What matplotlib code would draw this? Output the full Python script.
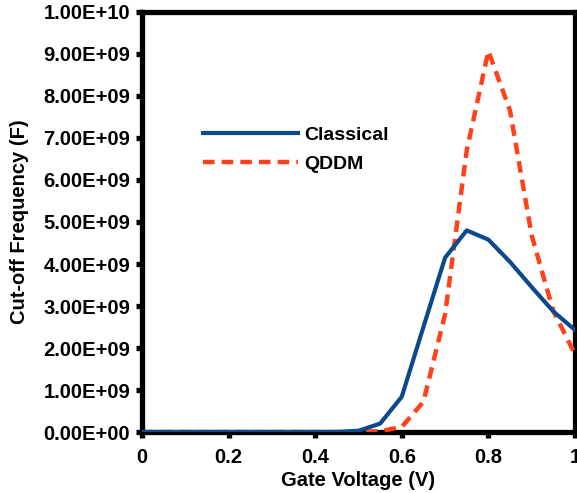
import matplotlib.pyplot as plt
from matplotlib.ticker import FuncFormatter

plt.rcParams['font.family'] = ['Liberation Sans', 'DejaVu Sans']
plt.rcParams['font.weight'] = 'bold'

# gate voltage sweep (V) and cut-off frequency for both models
voltage = [0.0, 0.05, 0.1, 0.15, 0.2, 0.25, 0.3, 0.35, 0.4, 0.45, 0.5,
           0.55, 0.6, 0.65, 0.7, 0.75, 0.8, 0.85, 0.9, 0.95, 1.0]
classical = [0, 0, 0, 0, 0, 0, 0, 0, 0, 0, 0.03e9,
             0.2e9, 0.84e9, 2.5e9, 4.15e9, 4.8e9, 4.58e9, 4.05e9, 3.45e9, 2.87e9, 2.43e9]
qddm = [0, 0, 0, 0, 0, 0, 0, 0, 0, 0, 0,
        0.02e9, 0.12e9, 0.72e9, 2.8e9, 6.7e9, 9.07e9, 7.65e9, 4.68e9, 2.88e9, 1.85e9]

xticks = [0, 0.2, 0.4, 0.6, 0.8, 1.0]
xtick_labels = ["0", "0.2", "0.4", "0.6", "0.8", "1"]
yticks = [i * 1e9 for i in range(11)]

fig = plt.figure(figsize=(5.77, 4.93), dpi=100)
ax = fig.add_axes([0.246, 0.1237, 0.7505, 0.852])

ax.plot(voltage, qddm, color='#ff4019', lw=3.2, dashes=(2.6, 1.6),
        label='QDDM', zorder=3)
ax.plot(voltage, classical, color='#0a4a8c', lw=3.0,
        label='Classical', zorder=4)

ax.set_xlim(0, 1)
ax.set_ylim(0, 1e10)
ax.set_xticks(xticks)
ax.set_xticklabels(xtick_labels)
ax.set_yticks(yticks)
ax.yaxis.set_major_formatter(FuncFormatter(lambda v, p: "%.2E" % v))

for s in ax.spines.values():
    s.set_linewidth(3.8)
ax.tick_params(direction='out', length=4.5, width=3.8, labelsize=14.5)
ax.tick_params(axis='x', pad=7)
ax.tick_params(axis='y', pad=4)

ax.set_xlabel("Gate Voltage (V)", fontsize=14.5, fontweight='bold', labelpad=3)
ax.set_ylabel("Cut-off Frequency (F)", fontsize=14.5, fontweight='bold', labelpad=10)

handles, labels = ax.get_legend_handles_labels()
ax.legend(handles[::-1], labels[::-1], loc='upper left', bbox_to_anchor=(0.1, 0.77),
          frameon=False, fontsize=14, handlelength=4.9, handletextpad=0.3,
          labelspacing=0.6)

fig.savefig("out.png", dpi=100)
